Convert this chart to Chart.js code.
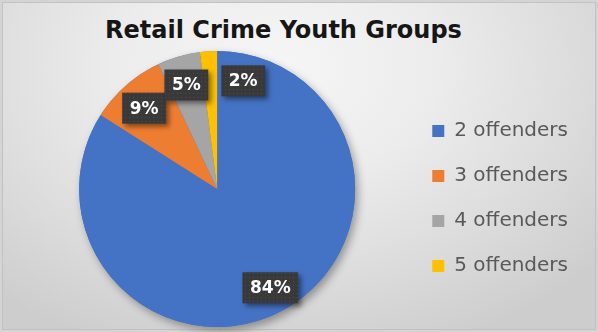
<!DOCTYPE html>
<html>
<head>
<meta charset="utf-8">
<title>Retail Crime Youth Groups</title>
<script src="https://cdn.jsdelivr.net/npm/chart.js@4.4.0/dist/chart.umd.min.js"></script>
<style>
    html, body { margin: 0; padding: 0; }
    body { width: 598px; height: 332px; overflow: hidden; background: #d4d4d4; }
    .wrap { position: relative; width: 598px; height: 332px; }
    .frame {
        position: absolute; left: 2px; top: 2px; width: 592px; height: 326px;
        border: 1px solid #c2c2c2;
        background: radial-gradient(ellipse 72% 92% at 46% 20%, #f6f6f6 0%, #ececec 38%, #dadada 75%, #cdcdcd 100%);
    }
    .chart-title {
        position: absolute; left: 0; top: 18px; width: 567px;
        text-align: center; color: #161616;
        font: bold 24px "DejaVu Sans", sans-serif; line-height: 24px;
    }
    canvas { position: absolute; left: 0; top: 0; }
</style>
</head>
<body>
<div class="wrap">
    <div class="frame"></div>
    <div class="chart-title">Retail Crime Youth Groups</div>
    <canvas id="youthChart" width="598" height="332"></canvas>
</div>
<script>
const categories = ['2 offenders', '3 offenders', '4 offenders', '5 offenders'];
const shares = [84, 9, 5, 2];

// soft drop shadow under the whole pie, drawn before the slices
const pieShadow = {
    id: 'pieShadow',
    beforeDatasetsDraw(chart) {
        const arc = chart.getDatasetMeta(0).data[0];
        if (!arc) return;
        const { x, y, outerRadius } = arc.getProps(['x', 'y', 'outerRadius'], true);
        const ctx = chart.ctx;
        ctx.save();
        ctx.shadowColor = 'rgba(0, 0, 0, 0.35)';
        ctx.shadowBlur = 8;
        ctx.shadowOffsetX = 3;
        ctx.shadowOffsetY = 4;
        ctx.fillStyle = '#4472C4';
        ctx.beginPath();
        ctx.arc(x, y, outerRadius, 0, Math.PI * 2);
        ctx.fill();
        ctx.restore();
    }
};

function dotPattern(ctx) {
    const tile = document.createElement('canvas');
    tile.width = tile.height = 4;
    const t = tile.getContext('2d');
    t.fillStyle = '#393939';
    t.fillRect(0, 0, 4, 4);
    t.fillStyle = '#4b4b4b';
    t.fillRect(1, 1, 1, 1);
    return ctx.createPattern(tile, 'repeat');
}

// dark percentage boxes inside each slice
const valueBoxes = {
    id: 'valueBoxes',
    afterDatasetsDraw(chart) {
        const ctx = chart.ctx;
        const meta = chart.getDatasetMeta(0);
        const values = chart.data.datasets[0].data;
        const total = values.reduce((s, v) => s + v, 0);
        const fill = dotPattern(ctx);
        const placed = [];

        ctx.save();
        ctx.font = 'bold 17px "DejaVu Sans"';
        meta.data.forEach((arc, i) => {
            const { x, y, startAngle, endAngle, outerRadius } =
                arc.getProps(['x', 'y', 'startAngle', 'endAngle', 'outerRadius'], true);
            const mid = (startAngle + endAngle) / 2;
            const text = Math.round(values[i] / total * 100) + '%';
            const w = ctx.measureText(text).width + 15;
            const h = 31;
            const cx = x + Math.cos(mid) * outerRadius * 0.8;
            const cy = y + Math.sin(mid) * outerRadius * 0.8 + 2;
            const box = { l: cx - w / 2, r: cx + w / 2, t: cy - h / 2, b: cy + h / 2 };

            // small neighbours collide near the top, nudge them to the right
            placed.forEach(p => {
                const ox = Math.min(box.r, p.r) - Math.max(box.l, p.l);
                const oy = Math.min(box.b, p.b) - Math.max(box.t, p.t);
                if (ox > 4 && oy > 4) {
                    box.l = p.r + 13;
                    box.r = box.l + w;
                }
            });
            placed.push(box);

            ctx.save();
            ctx.shadowColor = 'rgba(0, 0, 0, 0.45)';
            ctx.shadowBlur = 5;
            ctx.shadowOffsetX = 3;
            ctx.shadowOffsetY = 3;
            ctx.fillStyle = fill;
            ctx.fillRect(box.l, box.t, w, h);
            ctx.restore();

            ctx.fillStyle = '#ffffff';
            ctx.textAlign = 'center';
            ctx.textBaseline = 'middle';
            ctx.fillText(text, (box.l + box.r) / 2, (box.t + box.b) / 2 + 1);
        });
        ctx.restore();
    }
};

new Chart(document.getElementById('youthChart'), {
    type: 'pie',
    data: {
        labels: categories,
        datasets: [{
            data: shares,
            backgroundColor: ['#4472C4', '#ED7D31', '#A5A5A5', '#FFC000'],
            borderWidth: 0
        }]
    },
    options: {
        responsive: false,
        animation: false,
        layout: {
            padding: { left: 27, right: 20, top: 51, bottom: 5 }
        },
        plugins: {
            legend: {
                position: 'right',
                // empty title only adds a little room above the entries
                title: { display: true, text: '', font: { size: 10, lineHeight: 1.9 }, padding: 0 },
                labels: {
                    boxWidth: 12,
                    boxHeight: 12,
                    padding: 25,
                    color: '#595959',
                    font: { family: 'DejaVu Sans', size: 20 }
                }
            },
            tooltip: { enabled: false }
        }
    },
    plugins: [pieShadow, valueBoxes]
});
</script>
</body>
</html>
